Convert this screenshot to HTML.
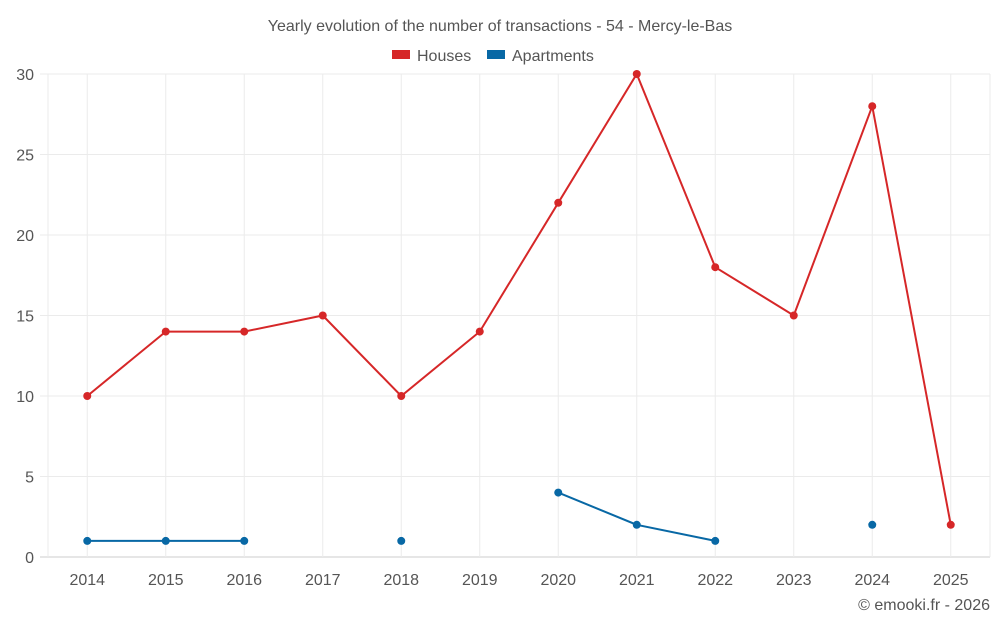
<!DOCTYPE html>
<html><head><meta charset="utf-8"><style>
body{margin:0;background:#fff;font-family:"Liberation Sans",sans-serif;}
svg text{font-family:"Liberation Sans",sans-serif;}
</style></head><body>
<svg id="c" width="1000" height="625">
<text x="500" y="31" text-anchor="middle" font-size="16" fill="#555">Yearly evolution of the number of transactions - 54 - Mercy-le-Bas</text>
<g>
<rect x="392" y="50" width="18" height="9" fill="#d62728"/>
<text x="417" y="61" font-size="16" fill="#555">Houses</text>
<rect x="487" y="50" width="18" height="9" fill="#0868a5"/>
<text x="512" y="61" font-size="16" fill="#555">Apartments</text>
</g>
<g id="grid"></g><g id="axes"></g><g id="series"></g>
<text x="990" y="610" text-anchor="end" font-size="16" fill="#555">© emooki.fr - 2026</text>
</svg>
<script>
const years=["2014","2015","2016","2017","2018","2019","2020","2021","2022","2023","2024","2025"];
const houses=[10,14,14,15,10,14,22,30,18,15,28,2];
const apartments=[1,1,1,null,1,null,4,2,1,null,2,null];
const yTicks=[0,5,10,15,20,25,30];
const L=48,R=990,T=74,B=557,yMax=30;
const band=(R-L)/years.length;
const xs=i=>L+(i+0.5)*band;
const ys=v=>B-(v/yMax)*(B-T);
const NS="http://www.w3.org/2000/svg";
function mk(tag,attrs,parent){const e=document.createElementNS(NS,tag);for(const k in attrs)e.setAttribute(k,attrs[k]);parent.appendChild(e);return e;}
const grid=document.getElementById('grid'),axes=document.getElementById('axes'),ser=document.getElementById('series');
yTicks.forEach(t=>{
 const l=mk('line',{x1:40,x2:R,y1:ys(t),y2:ys(t),stroke:t===0?'#ccc':'#ebebeb'},grid);
 
 
 const tx=mk('text',{x:34,y:ys(t)+6,'text-anchor':'end','font-size':16,fill:'#555'},axes);
 tx.textContent=t;
 
 
});
[L,R].forEach(x=>{
 const l=mk('line',{x1:x,x2:x,y1:T,y2:B,stroke:'#ebebeb'},grid);
 
 
});
years.forEach((y,i)=>{
 const l=mk('line',{x1:xs(i),x2:xs(i),y1:T,y2:B,stroke:'#ebebeb'},grid);
 
 
 const tx=mk('text',{x:xs(i),y:585,'text-anchor':'middle','font-size':16,fill:'#555'},axes);
 tx.textContent=y;
 
 
});
function draw(data,color,name){
 let d='',pen=false;
 data.forEach((v,i)=>{if(v==null){pen=false;return;}d+=(pen?'L':'M')+xs(i)+' '+ys(v)+' ';pen=true;});
 const p=mk('path',{d:d,fill:'none',stroke:color,'stroke-width':2},ser);
 
 
 data.forEach((v,i)=>{if(v==null)return;
  const c=mk('circle',{cx:xs(i),cy:ys(v),r:4,fill:color},ser);
  
  
 });
}
draw(houses,'#d62728','houses');
draw(apartments,'#0868a5','apartments');
</script>
</body></html>
